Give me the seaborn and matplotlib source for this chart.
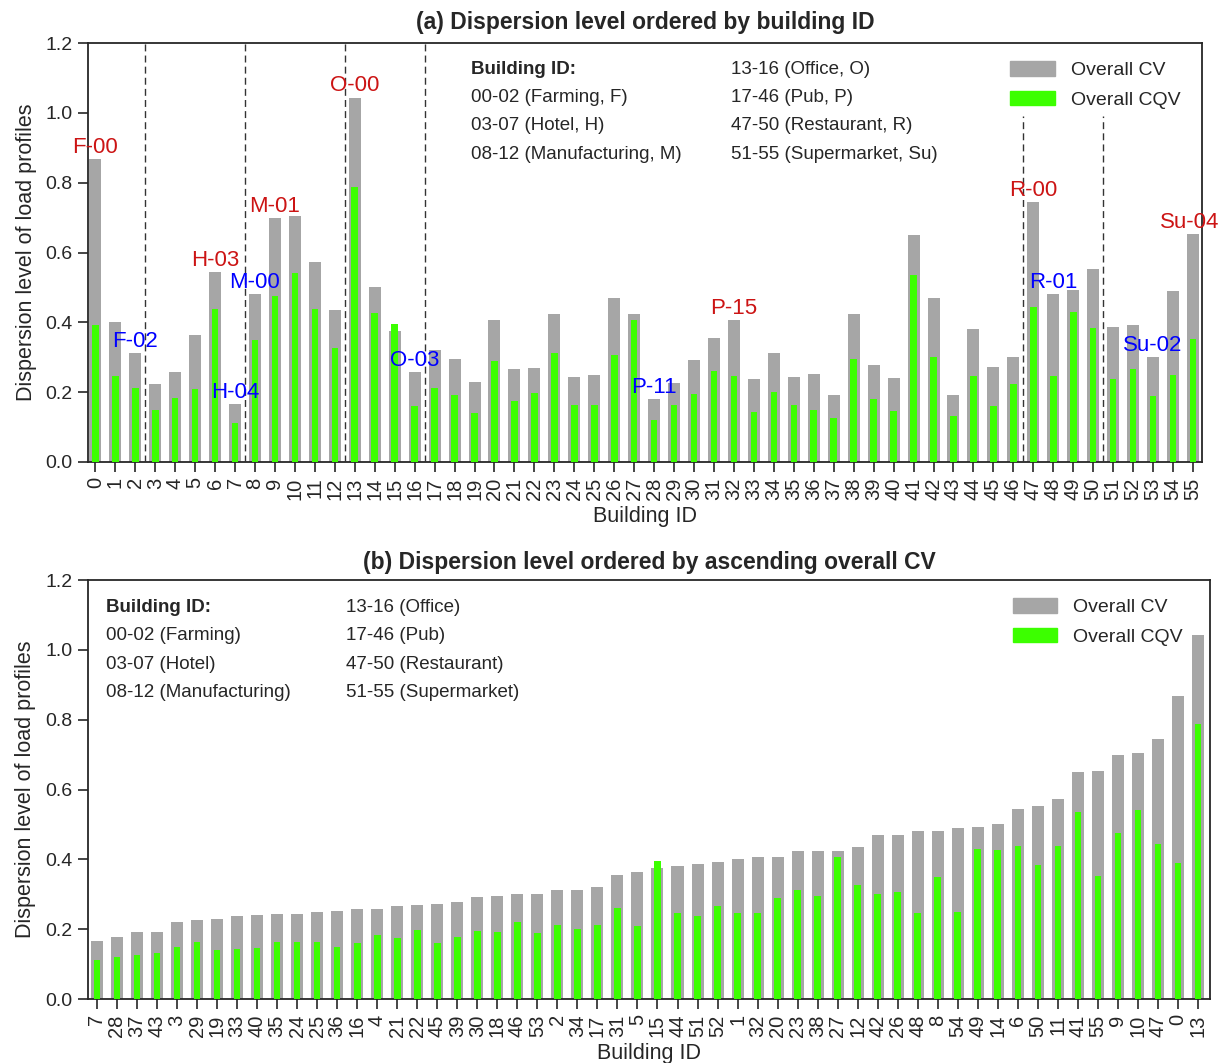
import matplotlib
matplotlib.use('Agg')
import matplotlib.pyplot as plt
from matplotlib.patches import Patch
import seaborn as sns
import pandas as pd

# overall CV / CQV per building, index = building ID 0..55
building_ids = list(range(56))
overall_cv = [0.867, 0.402, 0.313, 0.222, 0.257, 0.364, 0.545, 0.166, 0.482, 0.698,
              0.706, 0.573, 0.435, 1.044, 0.502, 0.375, 0.258, 0.320, 0.296, 0.229,
              0.406, 0.265, 0.270, 0.423, 0.244, 0.249, 0.470, 0.425, 0.179, 0.227,
              0.293, 0.356, 0.406, 0.238, 0.313, 0.244, 0.253, 0.193, 0.425, 0.277,
              0.241, 0.650, 0.470, 0.193, 0.380, 0.272, 0.301, 0.745, 0.481, 0.492,
              0.552, 0.387, 0.392, 0.300, 0.489, 0.652]
overall_cqv = [0.391, 0.246, 0.213, 0.148, 0.184, 0.210, 0.439, 0.112, 0.349, 0.475,
               0.540, 0.439, 0.326, 0.789, 0.426, 0.396, 0.160, 0.213, 0.191, 0.139,
               0.289, 0.174, 0.198, 0.313, 0.163, 0.163, 0.306, 0.408, 0.120, 0.163,
               0.194, 0.261, 0.246, 0.143, 0.201, 0.163, 0.148, 0.127, 0.296, 0.179,
               0.146, 0.537, 0.301, 0.131, 0.246, 0.160, 0.222, 0.443, 0.246, 0.430,
               0.384, 0.237, 0.265, 0.189, 0.249, 0.351]

# order of panel (b), ascending overall CV
order_b = [7, 28, 37, 43, 3, 29, 19, 33, 40, 35, 24, 25, 36, 16, 4, 21, 22, 45, 39, 30,
           18, 46, 53, 2, 34, 17, 31, 5, 15, 44, 51, 52, 1, 32, 20, 23, 38, 27, 12, 42,
           26, 48, 8, 54, 49, 14, 6, 50, 11, 41, 55, 9, 10, 47, 0, 13]

# labelled buildings in panel (a)
label_ids = [0, 2, 6, 7, 8, 9, 13, 16, 28, 32, 47, 48, 53, 55]
label_texts = ['F-00', 'F-02', 'H-03', 'H-04', 'M-00', 'M-01', 'O-00', 'O-03',
               'P-11', 'P-15', 'R-00', 'R-01', 'Su-02', 'Su-04']
label_kind = ['max', 'min', 'max', 'min', 'min', 'max', 'max', 'min',
              'min', 'max', 'max', 'min', 'min', 'max']

# group boundaries
group_breaks = [2.5, 7.5, 12.5, 16.5]
group_breaks_short = [46.5, 50.5]

col1_a = ['00-02 (Farming, F)', '03-07 (Hotel, H)', '08-12 (Manufacturing, M)']
col2_a = ['13-16 (Office, O)', '17-46 (Pub, P)', '47-50 (Restaurant, R)', '51-55 (Supermarket, Su)']
col1_b = ['00-02 (Farming)', '03-07 (Hotel)', '08-12 (Manufacturing)']
col2_b = ['13-16 (Office)', '17-46 (Pub)', '47-50 (Restaurant)', '51-55 (Supermarket)']

GRAY = '#a6a6a6'
GREEN = '#3cff00'
RED = '#cc1414'
BLUE = '#0000ff'

sns.set_style('ticks')
plt.rcParams['font.family'] = ['Liberation Sans', 'DejaVu Sans']

df = pd.DataFrame({'bid': [str(b) for b in building_ids], 'cv': overall_cv, 'cqv': overall_cqv})

fig = plt.figure(figsize=(12.2, 10.63), dpi=100)
ax_a = fig.add_axes([0.0721, 0.5654, 0.9131, 0.3941])
ax_b = fig.add_axes([0.0721, 0.0602, 0.9197, 0.3941])


def draw_bars(ax, order, leg_x):
    sns.barplot(data=df, x='bid', y='cv', order=order, color=GRAY, width=0.6,
                errorbar=None, saturation=1, linewidth=0, ax=ax, zorder=2)
    sns.barplot(data=df, x='bid', y='cqv', order=order, color=GREEN, width=0.33,
                errorbar=None, saturation=1, linewidth=0, ax=ax, zorder=3)
    ax.set_ylim(0, 1.2)
    ax.set_yticks([0, 0.2, 0.4, 0.6, 0.8, 1.0, 1.2])
    ax.set_yticklabels(['0.0', '0.2', '0.4', '0.6', '0.8', '1.0', '1.2'])
    ax.tick_params(axis='both', length=7, width=1.2, direction='out', pad=4)
    ax.tick_params(axis='y', labelsize=14)
    ax.tick_params(axis='x', labelsize=14.5, labelrotation=90)
    ax.set_xlabel('Building ID', fontsize=15.5, labelpad=4.5)
    ax.set_ylabel('Dispersion level of load profiles', fontsize=15.5)
    ax.yaxis.set_label_coords(-0.046, 0.5)
    for s in ax.spines.values():
        s.set_linewidth(1.3)
    handles = [Patch(color=GRAY, label='Overall CV'), Patch(color=GREEN, label='Overall CQV')]
    ax.legend(handles=handles, loc='upper left', frameon=False, fontsize=14,
              handlelength=2.3, handleheight=0.8, labelspacing=0.6, borderpad=0,
              borderaxespad=0, handletextpad=0.8, bbox_to_anchor=(leg_x, 0.958))


def draw_id_text(ax, x1, x2, col1, col2, y0, dy):
    ax.text(x1, y0, 'Building ID:', transform=ax.transAxes, fontsize=13.5,
            fontweight='bold', va='center', ha='left')
    for i, t in enumerate(col1):
        ax.text(x1, y0 - dy * (i + 1), t, transform=ax.transAxes, fontsize=13.5,
                va='center', ha='left')
    for i, t in enumerate(col2):
        ax.text(x2, y0 - dy * i, t, transform=ax.transAxes, fontsize=13.5,
                va='center', ha='left')


# panel (a)
order_a = [str(b) for b in building_ids]
draw_bars(ax_a, order_a, 0.828)
ax_a.set_xlim(-0.37, 55.45)
ax_a.set_title('(a) Dispersion level ordered by building ID', fontsize=16.5,
               fontweight='bold', pad=10)
for xb in group_breaks:
    ax_a.axvline(xb, color='#333333', ls=(0, (5, 3)), lw=1, zorder=4)
for xb in group_breaks_short:
    ax_a.axvline(xb, ymin=0, ymax=0.99 / 1.2, color='#333333', ls=(0, (5, 3)), lw=1, zorder=4)
for bid, txt, kind in zip(label_ids, label_texts, label_kind):
    xpos = bid - 0.15 if bid == 55 else bid
    ax_a.text(xpos, overall_cv[bid] + 0.003, txt, ha='center', va='bottom', fontsize=16,
              color=RED if kind == 'max' else BLUE, zorder=5, clip_on=False)
draw_id_text(ax_a, 0.344, 0.577, col1_a, col2_a, 0.936, 0.067)

# panel (b)
order_b_str = [str(b) for b in order_b]
draw_bars(ax_b, order_b_str, 0.824)
ax_b.set_xlim(-0.45, 55.6)
ax_b.set_title('(b) Dispersion level ordered by ascending overall CV', fontsize=16.5,
               fontweight='bold', pad=8)
draw_id_text(ax_b, 0.016, 0.230, col1_b, col2_b, 0.935, 0.068)

fig.savefig('out.png', dpi=100)
